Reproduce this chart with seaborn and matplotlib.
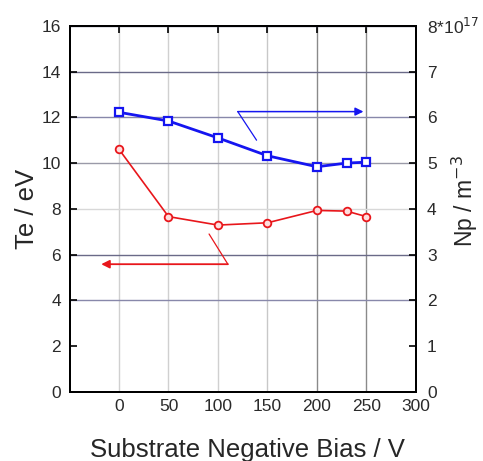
import matplotlib
matplotlib.use("Agg")
import matplotlib.pyplot as plt
import seaborn as sns
import pandas as pd

# data
bias = [0, 50, 100, 150, 200, 230, 250]
te_ev = [10.6, 7.66, 7.29, 7.39, 7.93, 7.90, 7.66]
np_1e17 = [6.11, 5.92, 5.55, 5.16, 4.92, 5.00, 5.02]
x_ticks = [0, 50, 100, 150, 200, 250, 300]
te_ticks = [0, 2, 4, 6, 8, 10, 12, 14, 16]
np_ticks = [0, 1, 2, 3, 4, 5, 6, 7, 8]
np_tick_labels = ["0", "1", "2", "3", "4", "5", "6", "7", "8*10$^{17}$"]

df = pd.DataFrame({"bias": bias, "te": te_ev, "np": np_1e17})

sns.set_style("white")
plt.rcParams["font.family"] = ["Liberation Sans", "DejaVu Sans"]

fig = plt.figure(figsize=(4.83, 4.61), dpi=100)
ax = fig.add_axes([0.144, 0.150, 0.717, 0.794])
ax2 = ax.twinx()

sns.lineplot(data=df, x="bias", y="te", ax=ax, color="#e8161b", lw=1.2,
             marker="o", markersize=5.5, markerfacecolor="#ffdddd",
             markeredgecolor="#e8161b", markeredgewidth=1.3, zorder=5)
sns.lineplot(data=df, x="bias", y="np", ax=ax2, color="#1515f0", lw=2.0,
             marker="s", markersize=5.5, markerfacecolor="white",
             markeredgecolor="#1515f0", markeredgewidth=1.6, zorder=5)

ax.set_xlim(-50, 300)
ax.set_ylim(0, 16)
ax2.set_ylim(0, 8)
ax.set_xticks(x_ticks)
ax.set_yticks(te_ticks)
ax2.set_yticks(np_ticks)
ax2.set_yticklabels(np_tick_labels)

# grid lines, colours vary as in the original
ax.grid(True, axis="both", lw=1.0)
vcols = ["#d0d0d0", "#d0d0d0", "#d0d0d0", "#c8c8c8", "#8a8a8a", "#8a8a8a", "#8a8a8a"]
for gl, c in zip(ax.get_xgridlines(), vcols):
    gl.set_color(c)
hcols = ["none", "none", "#8888aa", "#6a6a88", "#d8d8d8", "#9a9aa8",
         "#8888aa", "#6a6a88", "#6a6a88"]
for gl, c in zip(ax.get_ygridlines(), hcols):
    gl.set_color(c)
ax.set_axisbelow(True)

for a in (ax, ax2):
    for s in a.spines.values():
        s.set_color("black")
        s.set_linewidth(1.4)
ax.tick_params(axis="both", direction="in", length=5, width=1.2,
               labelsize=12.5, colors="black", pad=6, top=True)
ax.tick_params(axis="x", pad=5)
ax2.tick_params(axis="y", direction="in", length=5, width=1.2,
                labelsize=12.5, colors="black", pad=8)
for t in ax.get_xticklabels() + ax.get_yticklabels() + ax2.get_yticklabels():
    t.set_color("#2a2a2a")

ax.set_xlabel("Substrate Negative Bias / V", fontsize=18.5)
ax.set_ylabel("Te / eV", fontsize=18.5)
ax2.set_ylabel("Np / m$^{-3}$", fontsize=16.5)
ax.xaxis.set_label_coords(0.513, -0.125)
ax.yaxis.set_label_coords(-0.122, 0.5)
ax2.yaxis.set_label_coords(1.142, 0.52)
ax.xaxis.label.set_va("top")
ax.yaxis.label.set_va("center")
ax2.yaxis.label.set_va("center")

# pointer arrows: which axis each curve belongs to
blue_arrow = {"kink": (120, 6.125), "tail": (139, 5.5), "head": (247, 6.125)}
red_arrow = {"kink": (110, 5.58), "tail": (91, 6.9), "head": (-18, 5.58)}
ax2.plot([blue_arrow["tail"][0], blue_arrow["kink"][0]],
         [blue_arrow["tail"][1], blue_arrow["kink"][1]], color="#1515f0", lw=0.9)
ax2.annotate("", xy=blue_arrow["head"], xytext=blue_arrow["kink"],
             arrowprops=dict(arrowstyle="-|>", color="#1515f0", lw=1.1,
                             mutation_scale=12, shrinkA=0, shrinkB=0))
ax.plot([red_arrow["tail"][0], red_arrow["kink"][0]],
        [red_arrow["tail"][1], red_arrow["kink"][1]], color="#e8161b", lw=0.9)
ax.annotate("", xy=red_arrow["head"], xytext=red_arrow["kink"],
            arrowprops=dict(arrowstyle="-|>", color="#e8161b", lw=1.3,
                            mutation_scale=12, shrinkA=0, shrinkB=0))

fig.savefig("out.png", dpi=100)
